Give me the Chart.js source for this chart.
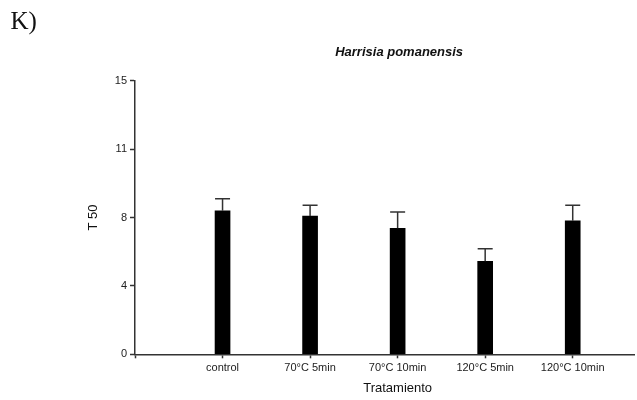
<!DOCTYPE html>
<html lang="es">
<head>
  <meta charset="UTF-8">
  <title>Harrisia pomanensis - T 50</title>
  <script src="https://cdn.jsdelivr.net/npm/chart.js"></script>
  <style>
    body { margin: 0; background: #fff; }
    #wrap { position: relative; width: 637px; height: 400px; }
    #panel {
      position: absolute;
      left: 10.5px;
      top: 8.4px;
      font-family: "Liberation Serif", "DejaVu Serif", serif;
      font-size: 25px;
      line-height: 25px;
      color: #111;
    }
  </style>
</head>
<body>
  <div id="wrap">
    <canvas id="t50Chart" width="637" height="400"></canvas>
    <div id="panel">K)</div>
  </div>
  <script>
    const categories = ['control', '70°C 5min', '70°C 10min', '120°C 5min', '120°C 10min'];
    const t50Means = [7.87, 7.58, 6.91, 5.10, 7.32];
    const t50Errors = [0.66, 0.59, 0.89, 0.69, 0.85];
    const yTickValues = [0, 3.75, 7.5, 11.25, 15];
    const yTickLabels = ['0', '4', '8', '11', '15'];

    const axisColor = '#333';
    const sans = '"Liberation Sans", Arial, sans-serif';

    // error bars (upper only) and the italic title
    const extras = {
      id: 'extras',
      afterDatasetsDraw(chart) {
        const ctx = chart.ctx;
        const y = chart.scales.y;
        const x = chart.scales.x;
        const meta = chart.getDatasetMeta(0);
        ctx.save();
        ctx.strokeStyle = axisColor;
        ctx.lineWidth = 1.5;
        meta.data.forEach((bar, i) => {
          const top = y.getPixelForValue(t50Means[i] + t50Errors[i]);
          const half = bar.width / 2;
          ctx.beginPath();
          ctx.moveTo(bar.x, bar.y);
          ctx.lineTo(bar.x, top);
          ctx.moveTo(bar.x - half, top);
          ctx.lineTo(bar.x + half, top);
          ctx.stroke();
        });

        const mid = x.getPixelForValue((categories.length + 1) / 2);
        ctx.fillStyle = '#111';
        ctx.textAlign = 'center';
        ctx.textBaseline = 'alphabetic';
        ctx.font = 'italic bold 13px ' + sans;
        ctx.fillText('Harrisia pomanensis', mid + 1.5, 55.7);
        ctx.font = '13px ' + sans;
        ctx.fillText('Tratamiento', mid, 392);
        ctx.restore();
      }
    };

    new Chart(document.getElementById('t50Chart'), {
      type: 'bar',
      data: {
        datasets: [{
          data: t50Means.map((v, i) => ({ x: i + 1, y: v })),
          backgroundColor: '#000',
          barThickness: 15
        }]
      },
      options: {
        responsive: false,
        animation: false,
        layout: { padding: { left: 86, right: 3, top: 80.7, bottom: 0 } },
        plugins: { legend: { display: false }, tooltip: { enabled: false } },
        scales: {
          x: {
            type: 'linear',
            min: 0,
            max: 5.7,
            offset: false,
            afterFit(scale) { scale.height = 45.7; },
            afterBuildTicks(scale) {
              scale.ticks = [0].concat(categories.map((c, i) => i + 1)).map(v => ({ value: v }));
            },
            grid: { offset: false, drawOnChartArea: false, tickLength: 4, tickColor: axisColor, tickWidth: 1.5 },
            border: { color: axisColor, width: 1.5 },
            ticks: {
              autoSkip: false,
              maxRotation: 0,
              padding: 3,
              color: '#222',
              font: { family: sans, size: 11 },
              callback: v => (v === 0 ? '' : categories[v - 1])
            }
          },
          y: {
            min: 0,
            max: 15,
            afterFit(scale) { scale.width = 49; },
            afterBuildTicks(scale) {
              scale.ticks = yTickValues.map(v => ({ value: v }));
            },
            grid: { drawOnChartArea: false, tickLength: 5, tickColor: axisColor, tickWidth: 1.5 },
            border: { color: axisColor, width: 1.5 },
            ticks: {
              padding: 3,
              color: '#222',
              font: { family: sans, size: 11 },
              callback: (v, i) => yTickLabels[i]
            },
            title: {
              display: true,
              text: 'T 50',
              color: '#111',
              padding: 0,
              font: { family: sans, size: 13 }
            }
          }
        }
      },
      plugins: [extras]
    });
  </script>
</body>
</html>
